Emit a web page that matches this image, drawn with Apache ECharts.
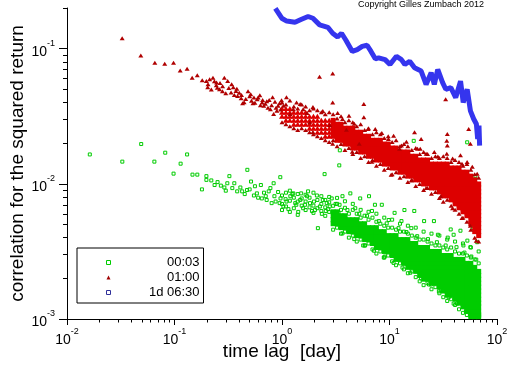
<!DOCTYPE html>
<html><head><meta charset="utf-8">
<script src="https://cdn.jsdelivr.net/npm/echarts@6/dist/echarts.min.js"></script>
<style>html,body{margin:0;padding:0;background:#fff}#c{width:512px;height:366px}</style>
</head><body><div id="c"></div>
<script>
const FONT = '"Liberation Sans", Arial, sans-serif';

const seriesNames = ['00:03', '01:00', '1d 06:30'];
const xMajorTicks = [0.01, 0.1, 1, 10, 100];
const xMinorTicks = [0.02,0.03,0.04,0.05,0.06,0.07,0.08,0.09,0.2,0.3,0.4,0.5,0.6,0.7,0.8,0.9,2,3,4,5,6,7,8,9,20,30,40,50,60,70,80,90];
const yMajorTicks = [0.001, 0.01, 0.1];
const yMinorTicks = [0.002,0.003,0.004,0.005,0.006,0.007,0.008,0.009,0.02,0.03,0.04,0.05,0.06,0.07,0.08,0.09,0.2];

// 00:03 — scattered points
const green0003 = [
[0.0163,0.0165],[0.0327,0.0146],[0.049,0.0197],[0.065,0.0146],[0.082,0.017],[0.098,0.0119],[0.114,0.0141],[0.131,0.0165],[0.147,0.0117],[0.163,0.0117],[0.18,0.0091],
[0.198,0.0114],[0.198,0.0107],[0.236,0.0098],[0.2515,0.0103],[0.291,0.0094],[0.31,0.0101],[0.324,0.0114],[0.345,0.0093],[0.383,0.0088],[0.426,0.0088],[0.473,0.009],[0.476,0.0127],[0.515,0.0104],[0.548,0.0082],[0.584,0.0085],[0.636,0.0098],[0.649,0.0078],[0.706,0.0081],[0.752,0.0088],[0.836,0.0101],[0.801,0.0072],[0.872,0.0074],[0.964,0.0112],[0.969,0.0078],
[0.22,0.0106],[0.27,0.0097],[0.3,0.0089],[0.36,0.0101],[0.41,0.0094],[0.45,0.0084],[0.5,0.0091],[0.56,0.0096],[0.6,0.0079],[0.68,0.0086],[0.72,0.0076],[0.78,0.0093],[0.85,0.0081],[0.92,0.0087],[0.95,0.0072],
[1.03,0.0068],[1.08,0.0077],[1.10,0.0074],[1.147,0.0065],[1.196,0.0081],[1.248,0.0084],[1.274,0.0085],[1.329,0.0072],[1.358,0.007],[1.416,0.0062],[1.477,0.0076],[1.508,0.0085],[1.573,0.0066],[1.64,0.007],[1.711,0.0081],[1.748,0.0088],[1.822,0.0072],[1.90,0.0063],[1.982,0.0074],[2.025,0.0064],[2.11,0.0082],[2.157,0.0047],[2.25,0.0068],[2.347,0.006],[2.396,0.0076],[2.49,0.0118],[2.553,0.0063],[2.607,0.0072],[2.69,0.0065],[2.777,0.0068],[2.90,0.0078],[3.02,0.0056],[3.086,0.0059],[3.15,0.0071],[3.357,0.0061],[3.41,0.0137],[3.45,0.0177],[3.43,0.007],[3.652,0.0081],[3.891,0.0056],[4.322,0.0085],[4.802,0.0066],[5.336,0.0078],[5.929,0.0035],[6.45,0.0081],[6.87,0.0063],[7.32,0.007],[8.48,0.007],[8.85,0.00285],[9.83,0.0054],[11.15,0.0061],[12.92,0.0053],[13.77,0.0064],[15.96,0.0047],[16.8,0.0208],[17.0,0.0063],[18.9,0.0023],[20.98,0.0053],[24.3,0.0018],[25.9,0.0053],[28.2,0.0042],[30.0,0.00163],[34.8,0.004],[37.1,0.0046],[39.5,0.0042],[45.7,0.0045],[48.7,0.0035],[52.8,0.0203],[53.0,0.0038],[56.5,0.0034],[60.1,0.0047],[63.0,0.0114],[65.4,0.0037],[39.5,0.0013],[35.5,0.00145],
[1.0,0.0082],[1.0,0.0071],[1.0,0.0064],[1.088,0.0086],[1.088,0.0068],[1.183,0.0075],[1.183,0.0062],[1.183,0.0089],[1.288,0.0079],[1.288,0.0066],[1.401,0.0084],[1.401,0.0074],[1.401,0.0059],[1.524,0.0078],[1.524,0.0069],[1.658,0.0083],[1.658,0.0064],[1.658,0.0074],[1.803,0.0079],[1.803,0.0067],[1.962,0.0069],[1.962,0.0086],[1.962,0.0061],[2.134,0.0076],[2.134,0.0066],[2.322,0.0071],[2.322,0.0081],[2.322,0.0063],[2.526,0.0067],[2.526,0.0076],[2.526,0.0058],[2.748,0.0073],[2.748,0.0062],[2.748,0.008]
];

// 00:03 — points along the edges of the dense band
const green0003Edge = [
[4.06,0.0064],[5.23,0.006],[6.18,0.0058],[7.96,0.0053],[9.42,0.0051],[12.13,0.0047],[14.36,0.0044],[18.1,0.0041],[22.8,0.0039],[27.6,0.0037],[33.3,0.0035],[42.0,0.0034],[49.8,0.0031],[57.7,0.0029],[64.1,0.00275],
[3.652,0.0043],[4.70,0.0039],[5.69,0.0035],[7.17,0.0032],[9.03,0.0029],[10.92,0.0026],[13.2,0.0024],[15.6,0.0022],[19.7,0.002],[23.3,0.0018],[28.8,0.0016],[35.5,0.0015],[42.4,0.0013],[51.4,0.00114],
[2.99,0.00688],[3.253,0.00711],[3.539,0.00642],[3.85,0.00665],[4.188,0.00601],[4.556,0.00642],[4.957,0.00601],[5.393,0.00562],[5.867,0.00581],[6.383,0.00543],[6.944,0.00562],[7.554,0.00524],[8.218,0.00507],[8.941,0.0049],[9.726,0.00474],[10.58,0.00474],[11.51,0.00458],[12.52,0.00443],[13.63,0.00443],[14.82,0.00428],[16.13,0.00414],[17.54,0.004],[19.09,0.00387],[20.76,0.00387],[22.59,0.00374],[24.58,0.00362],[26.74,0.0035],[29.09,0.0035],[31.64,0.00338],[34.42,0.00327],[37.45,0.00338],[40.74,0.00316],[44.32,0.00305],[48.22,0.00305],[52.46,0.00295],[57.07,0.00285],[62.08,0.00276],[67.54,0.00258],
[3.253,0.00787],[3.85,0.00743],[4.556,0.00711],[5.393,0.00642],[6.383,0.00621],[7.554,0.00601],[8.941,0.00562],[10.58,0.00543],[12.52,0.00507],[14.82,0.0049],[17.54,0.00474],[20.76,0.00443],[24.58,0.00428],[29.09,0.00414],[34.42,0.00387],[40.74,0.00374],[48.22,0.00362],[57.07,0.00338],[67.54,0.00316],
[2.99,0.00458],[3.253,0.00474],[3.539,0.00428],[3.85,0.00443],[4.188,0.004],[4.556,0.00414],[4.957,0.00374],[5.393,0.00387],[5.867,0.0035],[6.383,0.00362],[6.944,0.00327],[7.554,0.00305],[8.218,0.00316],[8.941,0.00285],[9.726,0.00295],[10.58,0.00267],[11.51,0.0025],[12.52,0.00258],[13.63,0.00233],[14.82,0.00218],[16.13,0.00225],[17.54,0.00204],[19.09,0.0019],[20.76,0.00178],[22.59,0.00184],[24.58,0.00166],[26.74,0.00172],[29.09,0.00155],[31.64,0.00145],[34.42,0.00136],[37.45,0.0014],[40.74,0.00127],[44.32,0.00118],[48.22,0.00111],[52.46,0.00107]
];

// 00:03 — dense band, one column of values per lag
const greenCoreX = [2.99,3.253,3.539,3.85,4.188,4.556,4.957,5.393,5.867,6.383,6.944,7.554,8.218,8.941,9.726,10.58,11.51,12.52,13.63,14.82,16.13,17.54,19.09,20.76,22.59,24.58,26.74,29.09,31.64,34.42,37.45,40.74,44.32,48.22,52.46,57.07,62.08,67.54];
const greenCoreY = [
[0.00507,0.00543,0.00581,0.00621],
[0.00507,0.00543,0.00581,0.00621],
[0.00474,0.00507,0.00543,0.00581],
[0.00474,0.00507,0.00543,0.00581],
[0.00443,0.00474,0.00507,0.00543],
[0.00443,0.00474,0.00507,0.00543],
[0.00414,0.00443,0.00474,0.00507,0.00543],
[0.00414,0.00443,0.00474,0.00507],
[0.00387,0.00414,0.00443,0.00474,0.00507],
[0.00387,0.00414,0.00443,0.00474],
[0.00362,0.00387,0.00414,0.00443,0.00474],
[0.00338,0.00362,0.00387,0.00414,0.00443,0.00474],
[0.00338,0.00362,0.00387,0.00414,0.00443],
[0.00316,0.00338,0.00362,0.00387,0.00414,0.00443],
[0.00316,0.00338,0.00362,0.00387,0.00414],
[0.00295,0.00316,0.00338,0.00362,0.00387,0.00414],
[0.00276,0.00295,0.00316,0.00338,0.00362,0.00387,0.00414],
[0.00276,0.00295,0.00316,0.00338,0.00362,0.00387],
[0.00258,0.00276,0.00295,0.00316,0.00338,0.00362,0.00387],
[0.00241,0.00258,0.00276,0.00295,0.00316,0.00338,0.00362,0.00387],
[0.00241,0.00258,0.00276,0.00295,0.00316,0.00338,0.00362],
[0.00225,0.00241,0.00258,0.00276,0.00295,0.00316,0.00338,0.00362],
[0.0021,0.00225,0.00241,0.00258,0.00276,0.00295,0.00316,0.00338],
[0.00197,0.0021,0.00225,0.00241,0.00258,0.00276,0.00295,0.00316,0.00338],
[0.00197,0.0021,0.00225,0.00241,0.00258,0.00276,0.00295,0.00316,0.00338],
[0.00184,0.00197,0.0021,0.00225,0.00241,0.00258,0.00276,0.00295,0.00316],
[0.00184,0.00197,0.0021,0.00225,0.00241,0.00258,0.00276,0.00295,0.00316],
[0.00172,0.00184,0.00197,0.0021,0.00225,0.00241,0.00258,0.00276,0.00295,0.00316],
[0.00161,0.00172,0.00184,0.00197,0.0021,0.00225,0.00241,0.00258,0.00276,0.00295],
[0.0015,0.00161,0.00172,0.00184,0.00197,0.0021,0.00225,0.00241,0.00258,0.00276,0.00295],
[0.0015,0.00161,0.00172,0.00184,0.00197,0.0021,0.00225,0.00241,0.00258,0.00276,0.00295],
[0.0014,0.0015,0.00161,0.00172,0.00184,0.00197,0.0021,0.00225,0.00241,0.00258,0.00276],
[0.00131,0.0014,0.0015,0.00161,0.00172,0.00184,0.00197,0.0021,0.00225,0.00241,0.00258,0.00276],
[0.00123,0.00131,0.0014,0.0015,0.00161,0.00172,0.00184,0.00197,0.0021,0.00225,0.00241,0.00258,0.00276],
[0.00114,0.00123,0.00131,0.0014,0.0015,0.00161,0.00172,0.00184,0.00197,0.0021,0.00225,0.00241,0.00258],
[0.00104,0.00107,0.00114,0.00123,0.00131,0.0014,0.0015,0.00161,0.00172,0.00184,0.00197,0.0021,0.00225,0.00241,0.00258],
[0.00104,0.00107,0.00114,0.00123,0.00131,0.0014,0.0015,0.00161,0.00172,0.00184,0.00197,0.0021,0.00225,0.00241],
[0.00104,0.00107,0.00114,0.00123,0.00131,0.0014,0.0015,0.00161,0.00172,0.00184,0.00197,0.0021,0.00225]
];

// 01:00 — scattered points
const red0100 = [
[0.0326,0.1197],[0.0486,0.0889],[0.0656,0.0786],[0.0811,0.0773],[0.098,0.0786],[0.113,0.069],[0.131,0.071],[0.146,0.061],[0.163,0.0637],[0.181,0.0583],
[0.198,0.0576],[0.2037,0.0518],[0.2124,0.0593],[0.228,0.061],[0.2447,0.0536],[0.2462,0.0563],[0.2623,0.0501],[0.2795,0.0484],[0.291,0.061],[0.3124,0.0576],[0.3357,0.0474],[0.3523,0.0518],[0.373,0.0487],[0.386,0.0447],[0.417,0.043],[0.444,0.0402],[0.4833,0.0484],[0.5117,0.046],[0.537,0.0395],[0.548,0.0435],[0.588,0.0423],[0.6223,0.0452],[0.6535,0.04],[0.6773,0.0378],[0.7215,0.0409],[0.78,0.0357],[0.818,0.0438],[0.836,0.0329],[0.896,0.0347],[0.9487,0.0395],
[0.205,0.0545],[0.22,0.0498],[0.235,0.0575],[0.25,0.0515],[0.265,0.0558],[0.28,0.0528],[0.3,0.0468],[0.32,0.0512],[0.34,0.0545],[0.36,0.0455],[0.38,0.0505],[0.4,0.0472],[0.42,0.0455],[0.43,0.0395],[0.46,0.0425],[0.5,0.0445],[0.52,0.0412],[0.56,0.0398],[0.6,0.0435],[0.63,0.0382],[0.66,0.0418],[0.7,0.0392],[0.74,0.0366],[0.76,0.0418],[0.8,0.0382],[0.86,0.0405],[0.88,0.0365],[0.92,0.0378],[0.97,0.0355],[0.99,0.0415],
[1.03,0.0378],[1.10,0.0438],[1.188,0.0329],[1.274,0.0357],[1.366,0.04],[1.477,0.0389],[1.573,0.0357],[1.711,0.0334],[1.81,0.0286],[1.941,0.037],[1.941,0.0242],[2.235,0.062],[2.396,0.0346],[2.777,0.0273],[2.96,0.0656],[2.96,0.04],[2.96,0.0198],[3.29,0.0334],[3.652,0.0302],[3.973,0.0251],[4.2,0.0319],[4.508,0.0173],[4.70,0.0278],[5.226,0.0198],[5.77,0.0389],[5.77,0.0311],[6.32,0.0255],[6.87,0.0146],[7.37,0.0255],[8.48,0.0238],[9.77,0.0215],[10.35,0.0117],[10.92,0.0227],[12.39,0.0182],[12.92,0.0192],[14.36,0.0205],[15.96,0.0106],[17.1,0.0241],[18.2,0.0182],[19.3,0.0182],[19.7,0.0215],[21.9,0.0167],[21.9,0.0093],[26.1,0.0172],[28.2,0.0159],[30.0,0.0081],[33.3,0.0423],[34.1,0.0208],[34.1,0.0167],[34.5,0.0234],[34.5,0.0192],[38.65,0.0154],[38.65,0.0066],[45.7,0.0163],[47.2,0.0141],[47.2,0.0056],[52.7,0.0145],[54.5,0.0255],[56.5,0.0198],[56.5,0.0049],[58.9,0.0134],[64.1,0.0038],[65.4,0.0119]
];

// 01:00 — points along the edges of the dense band
const red0100Edge = [
[1.0,0.04],[1.088,0.0387],[1.183,0.0414],[1.288,0.0373],[1.401,0.0361],[1.524,0.0387],[1.658,0.0373],[1.803,0.035],[1.962,0.0361],[2.134,0.035],[2.322,0.0338],[2.526,0.0327],[2.748,0.0338],[2.99,0.0327],[3.253,0.0305],[3.539,0.0316],[3.85,0.0285],[4.188,0.0295],[4.556,0.0285],[4.957,0.0267],[5.393,0.0276],[5.867,0.025],[6.383,0.0258],[6.944,0.0233],[7.554,0.0241],[8.218,0.0233],[8.941,0.0218],[9.726,0.0225],[10.58,0.0204],[11.51,0.021],[12.52,0.019],[13.63,0.0197],[14.82,0.019],[16.13,0.0178],[17.54,0.0184],[19.09,0.0166],[20.76,0.0172],[22.59,0.0166],[24.58,0.0155],[26.74,0.016],[29.09,0.0155],[31.64,0.016],[34.42,0.0155],[37.45,0.0145],[40.74,0.015],[44.32,0.0145],[48.22,0.0136],[52.46,0.014],[57.07,0.0127],[62.08,0.0118],[67.54,0.0111],
[1.0,0.0285],[1.088,0.0276],[1.183,0.0267],[1.288,0.0258],[1.401,0.025],[1.524,0.0258],[1.658,0.025],[1.803,0.0241],[1.962,0.0233],[2.134,0.0225],[2.322,0.0218],[2.526,0.021],[2.748,0.0204],[2.99,0.021],[3.253,0.019],[3.539,0.0197],[3.85,0.0178],[4.188,0.0184],[4.556,0.0166],[4.957,0.0172],[5.393,0.0155],[5.867,0.016],[6.383,0.0145],[6.944,0.015],[7.554,0.0136],[8.218,0.014],[8.941,0.0127],[9.726,0.0131],[10.58,0.0118],[11.51,0.0122],[12.52,0.0111],[13.63,0.0114],[14.82,0.0103],[16.13,0.0107],[17.54,0.00965],[19.09,0.00998],[20.76,0.00902],[22.59,0.00933],[24.58,0.00843],[26.74,0.00872],[29.09,0.00787],[31.64,0.00736],[34.42,0.00761],[37.45,0.00688],[40.74,0.00642],[44.32,0.00601],[48.22,0.00562],[52.46,0.00524],[57.07,0.00458],[62.08,0.004],[67.54,0.00374]
];

// 01:00 — moderately dense band at short lags, one column of values per lag
const redMidX = [1.0,1.088,1.183,1.288,1.401,1.524,1.658,1.803,1.962,2.134,2.322,2.526,2.748];
const redMidY = [
[0.0316,0.0338,0.0361],
[0.0295,0.0316,0.0338,0.0361],
[0.0295,0.0316,0.0338,0.0361],
[0.0276,0.0295,0.0316,0.0338],
[0.0276,0.0295,0.0316,0.0338],
[0.0276,0.0295,0.0316,0.0338],
[0.0276,0.0295,0.0316,0.0338],
[0.0258,0.0276,0.0295,0.0316],
[0.0258,0.0276,0.0295,0.0316],
[0.0241,0.0258,0.0276,0.0295,0.0316],
[0.0241,0.0258,0.0276,0.0295],
[0.0225,0.0241,0.0258,0.0276,0.0295],
[0.0225,0.0241,0.0258,0.0276,0.0295]
];

// 01:00 — dense band, one column of values per lag
const redCoreX = [2.99,3.253,3.539,3.85,4.188,4.556,4.957,5.393,5.867,6.383,6.944,7.554,8.218,8.941,9.726,10.58,11.51,12.52,13.63,14.82,16.13,17.54,19.09,20.76,22.59,24.58,26.74,29.09,31.64,34.42,37.45,40.74,44.32,48.22,52.46,57.07,62.08,67.54];
const redCoreY = [
[0.0225,0.0241,0.0258,0.0276,0.0295],
[0.021,0.0225,0.0241,0.0258,0.0276],
[0.021,0.0225,0.0241,0.0258,0.0276],
[0.0197,0.021,0.0225,0.0241,0.0258],
[0.0197,0.021,0.0225,0.0241,0.0258],
[0.0184,0.0197,0.021,0.0225,0.0241,0.0258],
[0.0184,0.0197,0.021,0.0225,0.0241],
[0.0172,0.0184,0.0197,0.021,0.0225,0.0241],
[0.0172,0.0184,0.0197,0.021,0.0225],
[0.016,0.0172,0.0184,0.0197,0.021,0.0225],
[0.016,0.0172,0.0184,0.0197,0.021],
[0.015,0.016,0.0172,0.0184,0.0197,0.021],
[0.015,0.016,0.0172,0.0184,0.0197,0.021],
[0.014,0.015,0.016,0.0172,0.0184,0.0197],
[0.014,0.015,0.016,0.0172,0.0184,0.0197],
[0.0131,0.014,0.015,0.016,0.0172,0.0184],
[0.0131,0.014,0.015,0.016,0.0172,0.0184],
[0.0122,0.0131,0.014,0.015,0.016,0.0172],
[0.0122,0.0131,0.014,0.015,0.016,0.0172],
[0.0114,0.0122,0.0131,0.014,0.015,0.016,0.0172],
[0.0114,0.0122,0.0131,0.014,0.015,0.016],
[0.0107,0.0114,0.0122,0.0131,0.014,0.015,0.016],
[0.0107,0.0114,0.0122,0.0131,0.014,0.015],
[0.00998,0.0107,0.0114,0.0122,0.0131,0.014,0.015],
[0.00998,0.0107,0.0114,0.0122,0.0131,0.014,0.015],
[0.00933,0.00998,0.0107,0.0114,0.0122,0.0131,0.014],
[0.00933,0.00998,0.0107,0.0114,0.0122,0.0131,0.014],
[0.00872,0.00933,0.00998,0.0107,0.0114,0.0122,0.0131,0.014],
[0.00815,0.00872,0.00933,0.00998,0.0107,0.0114,0.0122,0.0131,0.014],
[0.00815,0.00872,0.00933,0.00998,0.0107,0.0114,0.0122,0.0131,0.014],
[0.00761,0.00815,0.00872,0.00933,0.00998,0.0107,0.0114,0.0122,0.0131],
[0.00711,0.00761,0.00815,0.00872,0.00933,0.00998,0.0107,0.0114,0.0122,0.0131],
[0.00665,0.00711,0.00761,0.00815,0.00872,0.00933,0.00998,0.0107,0.0114,0.0122,0.0131],
[0.00621,0.00665,0.00711,0.00761,0.00815,0.00872,0.00933,0.00998,0.0107,0.0114,0.0122],
[0.00581,0.00621,0.00665,0.00711,0.00761,0.00815,0.00872,0.00933,0.00998,0.0107,0.0114,0.0122],
[0.00507,0.00543,0.00581,0.00621,0.00665,0.00711,0.00761,0.00815,0.00872,0.00933,0.00998,0.0107,0.0114],
[0.00443,0.00474,0.00507,0.00543,0.00581,0.00621,0.00665,0.00711,0.00761,0.00815,0.00872,0.00933,0.00998,0.0107],
[0.00414,0.00443,0.00474,0.00507,0.00543,0.00581,0.00621,0.00665,0.00711,0.00761,0.00815,0.00872,0.00933,0.00998]
];

// 1d 06:30
const blueX = [0.867,0.995,1.107,1.32,1.52,1.75,1.94,2.24,2.67,2.96,3.29,3.58,3.92,4.51,5.01,5.57,6.19,6.73,7.38,7.92,9.10,10.1,11.6,12.9,13.9,15.4,17.1,19.7,21.9,24.4,26.1,28.1,31.2,33.4,37.2,41.3,45.8,48.5,52.8,56.6,60.7,64.3,66.1,68.0,68.9];
const blueY = [0.1986,0.168,0.160,0.157,0.165,0.173,0.168,0.150,0.144,0.130,0.122,0.130,0.116,0.0955,0.0985,0.104,0.106,0.0955,0.0841,0.0855,0.083,0.0764,0.0879,0.083,0.0764,0.0807,0.0722,0.0683,0.0544,0.0664,0.0544,0.0702,0.0561,0.0501,0.0515,0.0435,0.0575,0.040,0.0501,0.0347,0.0302,0.0277,0.0215,0.0270,0.0192];

const GREEN = '#00cc00', RED = '#dd0000', RED_DARK = '#b00000', BLUE = '#3535ee';

function columns(xs, cols) {
  const out = [];
  xs.forEach((x, k) => cols[k].forEach(y => out.push([x, y])));
  return out;
}
function zip(xs, ys) { return xs.map((x, k) => [x, ys[k]]); }

const richPow = {
  b: { fontSize: 14, fontFamily: FONT, color: '#000', lineHeight: 20, verticalAlign: 'bottom' },
  e: { fontSize: 9, fontFamily: FONT, color: '#000', lineHeight: 8, verticalAlign: 'top' }
};
const powFmt = v => '{b|10}{e|' + Math.round(Math.log10(v)) + '}';
const blackLine = { color: '#000', width: 1 };
const noEmph = { disabled: true };

const chart = echarts.init(document.getElementById('c'), null, { renderer: 'canvas' });
chart.setOption({
  animation: false,
  backgroundColor: '#fff',
  grid: { left: 60, right: 15, top: 8, bottom: 44 },
  xAxis: [
    { type: 'log', logBase: 10, min: 0.01, max: 100, position: 'bottom',
      axisLine: { show: true, lineStyle: blackLine },
      axisTick: { show: true, inside: false, length: 3.5, customValues: xMinorTicks, lineStyle: blackLine },
      axisLabel: { show: false }, splitLine: { show: false },
      name: 'time lag  [day]', nameLocation: 'middle', nameGap: 23,
      nameTextStyle: { fontSize: 19, fontFamily: FONT, color: '#000' } },
    { type: 'log', logBase: 10, min: 0.01, max: 100, position: 'bottom',
      axisLine: { show: false },
      axisTick: { show: true, inside: false, length: 6, customValues: xMajorTicks, lineStyle: blackLine },
      axisLabel: { show: true, customValues: xMajorTicks, formatter: powFmt, rich: richPow, margin: 8 },
      splitLine: { show: false } }
  ],
  yAxis: [
    { type: 'log', logBase: 10, min: 0.001, max: 0.2, position: 'left',
      axisLine: { show: true, lineStyle: blackLine },
      axisTick: { show: true, inside: false, length: 4, customValues: yMinorTicks, lineStyle: blackLine },
      axisLabel: { show: false }, splitLine: { show: false },
      name: 'correlation for the squared return', nameLocation: 'middle', nameGap: 40, nameRotate: 90,
      nameTextStyle: { fontSize: 19, fontFamily: FONT, color: '#000' } },
    { type: 'log', logBase: 10, min: 0.001, max: 0.2, position: 'left',
      axisLine: { show: false },
      axisTick: { show: true, inside: false, length: 8, customValues: yMajorTicks, lineStyle: blackLine },
      axisLabel: { show: true, customValues: yMajorTicks, formatter: powFmt, rich: richPow, margin: 12 },
      splitLine: { show: false } }
  ],
  legend: {
    orient: 'vertical', left: 77, top: 248,
    padding: [7, 4, 3, 29], itemGap: 0, itemWidth: 4, itemHeight: 4,
    borderColor: '#000', borderWidth: 1, backgroundColor: '#fff',
    selectedMode: false,
    formatter: name => '{r|' + name + '}',
    textStyle: { fontSize: 13, fontFamily: FONT, color: '#000', lineHeight: 15,
      rich: { r: { width: 84, align: 'right', fontSize: 13, fontFamily: FONT, color: '#000', lineHeight: 15 } } },
    data: [
      { name: seriesNames[0], icon: 'rect', itemStyle: { color: 'rgba(0,0,0,0)', borderColor: GREEN, borderWidth: 1, opacity: 1 } },
      { name: seriesNames[1], icon: 'triangle', itemStyle: { color: '#a00000', opacity: 1 } },
      { name: seriesNames[2], icon: 'rect', itemStyle: { color: 'rgba(0,0,0,0)', borderColor: '#30309a', borderWidth: 1, opacity: 1 } }
    ]
  },
  graphic: [
    { type: 'text', left: 358, top: 0, z: 10,
      style: { text: 'Copyright Gilles Zumbach 2012', font: '9px ' + FONT, fill: '#000' } }
  ],
  series: [
    { name: seriesNames[0] + ' band', type: 'scatter', xAxisIndex: 0, yAxisIndex: 0, z: 1,
      data: columns(greenCoreX, greenCoreY), symbol: 'rect', symbolSize: 5,
      itemStyle: { color: GREEN, opacity: 1 }, emphasis: noEmph },
    { name: seriesNames[0], type: 'scatter', xAxisIndex: 0, yAxisIndex: 0, z: 2,
      data: green0003.concat(green0003Edge), symbol: 'rect', symbolSize: 3,
      itemStyle: { color: 'rgba(0,0,0,0)', borderColor: GREEN, borderWidth: 1, opacity: 1 }, emphasis: noEmph },
    { name: seriesNames[1] + ' band', type: 'scatter', xAxisIndex: 0, yAxisIndex: 0, z: 3,
      data: columns(redCoreX, redCoreY), symbol: 'rect', symbolSize: 5,
      itemStyle: { color: RED, opacity: 1 }, emphasis: noEmph },
    { name: seriesNames[1] + ' mid', type: 'scatter', xAxisIndex: 0, yAxisIndex: 0, z: 4,
      data: columns(redMidX, redMidY), symbol: 'triangle', symbolSize: [6, 5],
      itemStyle: { color: RED, opacity: 1 }, emphasis: noEmph },
    { name: seriesNames[1], type: 'scatter', xAxisIndex: 0, yAxisIndex: 0, z: 4,
      data: red0100.concat(red0100Edge), symbol: 'triangle', symbolSize: [5, 4],
      itemStyle: { color: RED_DARK, opacity: 1 }, emphasis: noEmph },
    { name: seriesNames[2], type: 'line', xAxisIndex: 0, yAxisIndex: 0, z: 5,
      data: zip(blueX, blueY), symbol: 'none', showSymbol: false,
      lineStyle: { color: BLUE, width: 5 }, itemStyle: { color: BLUE }, emphasis: noEmph }
  ]
});
</script></body></html>
